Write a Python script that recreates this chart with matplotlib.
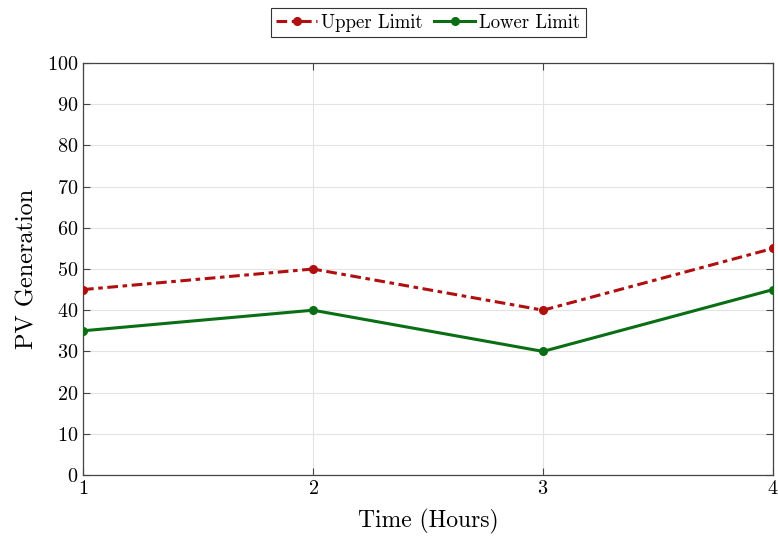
import matplotlib
matplotlib.use("Agg")
import matplotlib.pyplot as plt

# data
hours = [1, 2, 3, 4]
upper = [45, 50, 40, 55]
lower = [35, 40, 30, 45]

plt.rcParams["font.family"] = ["cmr10", "DejaVu Serif"]
plt.rcParams["mathtext.fontset"] = "cm"
plt.rcParams["axes.formatter.use_mathtext"] = True

fig = plt.figure(figsize=(7.78, 5.37), dpi=100)
ax = fig.add_axes([83 / 778, 1 - 475 / 537, 690 / 778, 412 / 537])

ax.plot(hours, upper, color="#b00f0f", linestyle=(0, (3.5, 1.5, 1.5, 1.5)), linewidth=2.2,
        marker="o", markersize=5.5, label="Upper Limit", zorder=3)
ax.plot(hours, lower, color="#0a6e14", linestyle="-", linewidth=2.2,
        marker="o", markersize=5.5, label="Lower Limit", zorder=3)

ax.set_xlim(1, 4)
ax.set_ylim(0, 100)
ax.set_xticks(hours)
ax.set_yticks(range(0, 101, 10))
ax.grid(True, color="#e3e3e3", linewidth=0.8)
ax.set_axisbelow(True)
ax.tick_params(direction="in", length=5, width=0.8, color="#444444",
               labelsize=14.5, top=True, right=True, labeltop=False, labelright=False)
for s in ax.spines.values():
    s.set_color("#444444")
    s.set_linewidth(0.9)

ax.set_xlabel("Time (Hours)", fontsize=17, labelpad=8)
ax.set_ylabel("PV Generation", fontsize=17.5, labelpad=6)

leg = fig.legend(loc="center", bbox_to_anchor=(428 / 778, 1 - 22.5 / 537), ncol=2,
                 fontsize=13.5, fancybox=False, edgecolor="#333333", framealpha=1,
                 handlelength=2.2, handletextpad=0.2, columnspacing=0.6,
                 borderpad=0.3, borderaxespad=0)
leg.get_frame().set_linewidth(0.8)

fig.savefig("out.png", dpi=100)
